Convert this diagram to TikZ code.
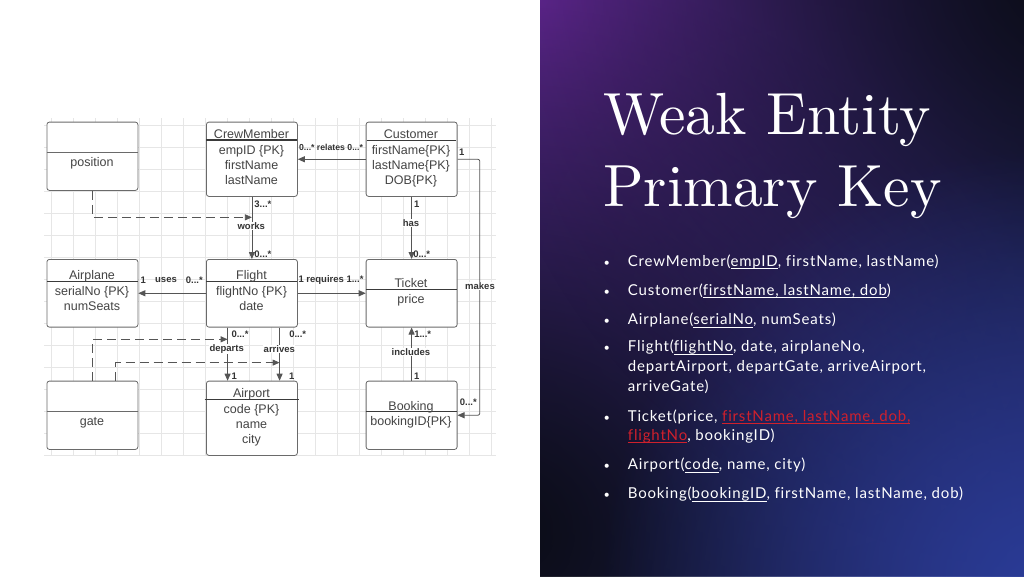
\documentclass[tikz,border=0pt]{standalone}
\usepackage{fontspec}
\usetikzlibrary{arrows.meta,fadings,calc}
\tikzfading[name=glow, inner color=transparent!0, outer color=transparent!100]
\newfontfamily\diagfont{Liberation Sans}
\newfontfamily\bulfont{Lato}[LetterSpace=5.5, Ligatures=NoCommon]
\newfontfamily\ttlfont{lmroman10-regular.otf}
\newcommand{\undl}[1]{\setbox0\hbox{#1}\rlap{\vrule height -2.4pt depth 3.2pt width \wd0}\box0}
\definecolor{boxc}{HTML}{6A6A6A}
\definecolor{divc}{HTML}{3A3A3A}
\definecolor{txt}{HTML}{444444}
\definecolor{lblc}{HTML}{333333}
\definecolor{edgec}{HTML}{555555}
\definecolor{gridc}{HTML}{E6E6E6}
\definecolor{redc}{HTML}{D0202C}
\definecolor{bgbase}{HTML}{1E1F4E}
\definecolor{bgmid}{HTML}{34358C}
\definecolor{bgpurple}{HTML}{6A2A9E}
\definecolor{bgdark}{HTML}{0B0C16}
\definecolor{bgblue}{HTML}{2A3C98}
\tikzset{
  box/.style={draw=boxc, line width=0.8pt, rounded corners=2.5pt, fill=white, inner sep=0pt, minimum width=91pt, anchor=north west},
  divl/.style={draw=divc, line width=1.1pt},
  attr/.style={font=\diagfont\fontsize{12.5}{15}\selectfont, text=txt, anchor=base, inner sep=0pt},
  lbl/.style={font=\diagfont\bfseries\fontsize{9.5}{11}\selectfont, text=lblc, inner sep=0.6pt},
  lblw/.style={lbl, fill=white},
  conn/.style={draw=edgec, line width=0.8pt},
  arr/.style={conn, -{Triangle[length=7pt,width=6pt]}},
  dsh/.style={dash pattern=on 9pt off 5pt},
  btxt/.style={font=\bulfont\fontsize{15}{19}\selectfont, text=white, anchor=base west, inner sep=0pt},
  bdot/.style={font=\bulfont\fontsize{11}{12}\selectfont, text=white, anchor=base, inner sep=0pt},
  ttl/.style={font=\ttlfont\fontsize{59.5}{64}\selectfont, text=white, anchor=base west, inner sep=0pt},
}
\begin{document}
\begin{tikzpicture}[x=1pt,y=-1pt]
\useasboundingbox (0,0) rectangle (1024,576);
\fill[white] (0,0) rectangle (540,576);
% right panel background
\begin{scope}
  \clip (540,0) rectangle (1024,576);
  \fill[bgbase] (540,0) rectangle (1024,576);
  \fill[bgmid, path fading=glow] (800,290) circle (520);
  \fill[bgpurple, path fading=glow] (540,0) circle (540);
  \fill[bgdark, path fading=glow] (510,530) circle (560);
  \fill[bgdark, path fading=glow] (1070,-30) circle (600);
  \fill[bgblue, path fading=glow] (1040,590) circle (440);
\end{scope}
% grid
\begin{scope}
  \clip (44,118) rectangle (496,456);
  \foreach \i in {0,...,20} \draw[gridc, line width=0.6pt] ({51.3+22*\i},118) -- ++(0,338);
  \foreach \j in {0,...,15} \draw[gridc, line width=0.6pt] (44,{125+22*\j}) -- ++(452,0);
\end{scope}
% boxes
\node[box, minimum height=68.3pt] (position) at (46.5,121.7) {};
\node[box, minimum height=74.3pt] (crew) at (206,121.7) {};
\node[box, minimum height=74.3pt] (cust) at (365.7,121.7) {};
\node[box, minimum height=67.7pt] (airplane) at (46.5,259) {};
\node[box, minimum height=67.7pt] (flight) at (206,259) {};
\node[box, minimum height=67.7pt] (ticket) at (365.7,259) {};
\node[box, minimum height=68.3pt] (gate) at (46.5,380.7) {};
\node[box, minimum height=74.3pt] (airport) at (206,380.7) {};
\node[box, minimum height=68.3pt] (booking) at (365.7,380.7) {};
% dividers
\draw[boxc, line width=0.9pt] (46.5,152.7) -- (137.5,152.7);
\draw[divl] (206,140) -- (297,140);
\draw[divl] (366.5,140.5) -- (455.5,140.5);
\draw[divl] (46.5,281.7) -- (137.5,281.7);
\draw[divl] (206,281.7) -- (297,281.7);
\draw[divl] (365.7,289.3) -- (456.7,289.3);
\draw[boxc, line width=0.9pt] (46.5,411.7) -- (137.5,411.7);
\draw[divl] (204.7,399.3) -- (298.7,399.3);
\draw[divl] (365.7,411.7) -- (456.7,411.7);
% box texts
\node[attr] (posT) at (92,166) {position};
\node[attr] (crewT) at (251.5,138.3) {CrewMember};
\node[attr] (crewA) at (251.5,154.4) {empID \{PK\}};
\node[attr] (crewB) at (251.5,169.4) {firstName};
\node[attr] (crewC) at (251.5,184.4) {lastName};
\node[attr] (custT) at (411,138.6) {Customer};
\node[attr] (custA) at (411,154.4) {firstName\{PK\}};
\node[attr] (custB) at (411,169.4) {lastName\{PK\}};
\node[attr] (custC) at (411,184.4) {DOB\{PK\}};
\node[attr] (airT) at (92,279.4) {Airplane};
\node[attr] (airA) at (92,295.4) {serialNo \{PK\}};
\node[attr] (airB) at (92,310.9) {numSeats};
\node[attr] (fltT) at (251.5,279.4) {Flight};
\node[attr] (fltA) at (251.5,295.4) {flightNo \{PK\}};
\node[attr] (fltB) at (251.5,310.9) {date};
\node[attr] (tktT) at (411,287.3) {Ticket};
\node[attr] (tktA) at (411,303.4) {price};
\node[attr] (gateT) at (92,425.4) {gate};
\node[attr] (aptT) at (251.5,397.6) {Airport};
\node[attr] (aptA) at (251.5,413.4) {code \{PK\}};
\node[attr] (aptB) at (251.5,428.4) {name};
\node[attr] (aptC) at (251.5,443.7) {city};
\node[attr] (bkgT) at (411,410.0) {Booking};
\node[attr] (bkgA) at (411,425.1) {bookingID\{PK\}};
% helper coordinates
\coordinate (wk) at ($(crew.south)!0.33!(flight.north)$);
\coordinate (dtop) at ([xshift=-24.3pt]flight.south);
\coordinate (dbot) at ([xshift=-24.3pt]airport.north);
\coordinate (atop) at ([xshift=27.7pt]flight.south);
\coordinate (abot) at ([xshift=27.7pt]airport.north);
\coordinate (dp1) at ($(dtop)!0.222!(dbot)$);
\coordinate (ap1) at ($(atop)!0.66!(abot)$);
\coordinate (mk) at ([xshift=22.3pt]cust.east);
% connectors
\draw[arr] (cust.west) -- (crew.east);
\draw[arr] (crew.south) -- (flight.north);
\draw[arr] (cust.south) -- (ticket.north);
\draw[arr] (flight.west) -- (airplane.east);
\draw[arr] (flight.east) -- (ticket.west);
\draw[arr] (dtop) -- (dbot);
\draw[arr] (atop) -- (abot);
\draw[arr] (booking.north) -- (ticket.south);
\draw[arr, rounded corners=2pt] (cust.east) -- (mk) |- (booking.east);
\draw[arr, dsh] (position.south) |- (wk);
\draw[arr, dsh] (gate.north) |- (dp1);
\draw[arr, dsh] ([xshift=23.3pt]gate.north) |- (ap1);
% labels
\node[lbl, font=\diagfont\bfseries\fontsize{8.7}{10}\selectfont] (lrel) at (331,147.7) {0...* relates 0...*};
\node[lbl] (lw1) at (262.9,204) {3...*};
\node[lblw] (lw2) at (251.3,226) {works};
\node[lbl] (lw3) at (262.9,254.3) {0...*};
\node[lbl] (lh1) at (416.7,204) {1};
\node[lblw] (lh2) at (411,222.7) {has};
\node[lbl] (lh3) at (421.7,254.3) {0...*};
\node[lbl] (lu1) at (143.3,280.3) {1};
\node[lbl] (lu2) at (166,280.3) {uses};
\node[lbl] (lu3) at (194.3,280.3) {0...*};
\node[lbl] (lreq) at (331,280.3) {1 requires 1...*};
\node[lbl] (ld1) at (240,334.3) {0...*};
\node[lblw] (ld2) at (226.7,349.3) {departs};
\node[lbl] (ld3) at (234.3,376.7) {1};
\node[lbl] (la1) at (297.7,334.3) {0...*};
\node[lblw] (la2) at (279.3,348.7) {arrives};
\node[lbl] (la3) at (291.7,376.7) {1};
\node[lbl] (li1) at (422.7,334.3) {1...*};
\node[lblw] (li2) at (411,352.3) {includes};
\node[lbl] (li3) at (416.7,376.7) {1};
\node[lbl] (lm1) at (461.7,152.3) {1};
\node[lblw] (lm2) at (480,285.7) {makes};
\node[lbl] (lm3) at (468.3,402.7) {0...*};
% title
\node[ttl] (t1) at (603,134.5) {Weak Entity};
\node[ttl] (t2) at (603,206.5) {Primary Key};
% bullets
\node[bdot] (d1) at (606.7,266) {•};
\node[btxt] (b1) at (627.7,266) {CrewMember(\undl{empID}, firstName, lastName)};
\node[bdot] (d2) at (606.7,295) {•};
\node[btxt] (b2) at (627.7,295) {Customer(\undl{firstName, lastName, dob})};
\node[bdot] (d3) at (606.7,324.3) {•};
\node[btxt] (b3) at (627.7,324.3) {Airplane(\undl{serialNo}, numSeats)};
\node[bdot] (d4) at (606.7,351.7) {•};
\node[btxt] (b4) at (627.7,351.7) {Flight(\undl{flightNo}, date, airplaneNo,};
\node[btxt] (b4b) at (627.7,371.7) {departAirport, departGate, arriveAirport,};
\node[btxt] (b4c) at (627.7,391) {arriveGate)};
\node[bdot] (d5) at (606.7,421) {•};
\node[btxt] (b5) at (627.7,421) {Ticket(price, {\color{redc}\undl{firstName, lastName, dob,}}};
\node[btxt] (b5b) at (627.7,440) {{\color{redc}\undl{flightNo}}, bookingID)};
\node[bdot] (d6) at (606.7,469.3) {•};
\node[btxt] (b6) at (627.7,469.3) {Airport(\undl{code}, name, city)};
\node[bdot] (d7) at (606.7,498.7) {•};
\node[btxt] (b7) at (627.7,498.7) {Booking(\undl{bookingID}, firstName, lastName, dob)};
\end{tikzpicture}
\end{document}
